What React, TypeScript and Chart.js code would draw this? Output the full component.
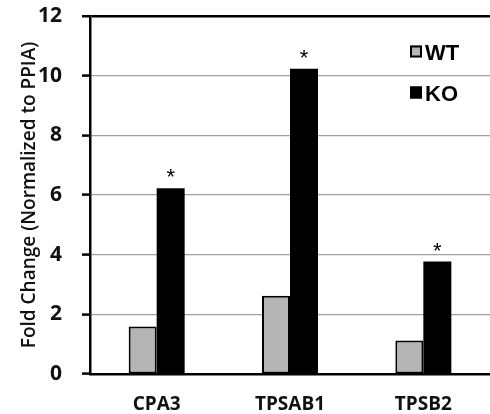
import React, { useEffect, useRef } from "react";
import { Chart, registerables } from "chart.js";

Chart.register(...registerables);

const categories = ["CPA3", "TPSAB1", "TPSB2"];
const wtValues = [1.59, 2.62, 1.12];
const koValues = [6.23, 10.23, 3.77];
const significant = [true, true, true];
const seriesLabels = ["WT", "KO"];
const yTicks = [0, 2, 4, 6, 8, 10, 12];

const annotationPlugin = {
  id: "annotations",
  afterDatasetsDraw(chart: any) {
    const ctx = chart.ctx;
    const meta = chart.getDatasetMeta(1);
    ctx.save();
    ctx.fillStyle = "#000";
    ctx.font = "normal 22px 'Liberation Sans', Arial, sans-serif";
    ctx.textAlign = "center";
    ctx.textBaseline = "alphabetic";
    meta.data.forEach((bar: any, i: number) => {
      if (significant[i]) ctx.fillText("*", bar.x, bar.y - 4);
    });
    // legend
    const ds = chart.data.datasets;
    const ys = [51.5, 92.5];
    ds.forEach((d: any, i: number) => {
      const y = ys[i];
      ctx.fillStyle = d.backgroundColor;
      ctx.fillRect(410, y - 6, 12, 12);
      ctx.strokeStyle = "#000";
      ctx.lineWidth = 2;
      ctx.strokeRect(411, y - 5, 10, 10);
      ctx.fillStyle = "#000";
      ctx.font = "bold 22px 'Liberation Sans', Arial, sans-serif";
      ctx.textAlign = "left";
      ctx.textBaseline = "middle";
      ctx.fillText(d.label, 425, y + 2.5);
    });
    ctx.restore();
  },
};

export default function App() {
  const ref = useRef<HTMLCanvasElement>(null);
  useEffect(() => {
    const chart = new Chart(ref.current!, {
      type: "bar",
      data: {
        labels: categories,
        datasets: [
          {
            label: seriesLabels[0],
            data: wtValues,
            backgroundColor: "#b4b4b4",
            borderColor: "#000",
            borderWidth: 2,
            borderSkipped: false,
          },
          {
            label: seriesLabels[1],
            data: koValues,
            backgroundColor: "#000",
            borderColor: "#000",
            borderWidth: 0,
          },
        ],
      },
      plugins: [annotationPlugin],
      options: {
        animation: false,
        responsive: false,
        layout: { padding: { top: 0, right: 0, bottom: 0, left: 0 } },
        plugins: { legend: { display: false }, tooltip: { enabled: false } },
        datasets: { bar: { barPercentage: 1, categoryPercentage: 0.42 } },
        scales: {
          x: {
            grid: { display: false, drawTicks: false },
            border: { display: true, color: "#000", width: 2.5 },
            ticks: {
              color: "#111",
              padding: 19,
              font: { family: "'Open Sans', sans-serif", weight: "bold", size: 19 },
            },
            afterFit: (s: any) => { s.height = 40; s.paddingLeft = 0; s.paddingRight = 0; },
          },
          y: {
            min: 0,
            max: 12,
            afterBuildTicks: (s: any) => { s.ticks = yTicks.map((v) => ({ value: v })); },
            grid: {
              color: (c: any) => (c.tick && c.tick.value === 12 ? "#000" : "#a0a0a0"),
              lineWidth: (c: any) => (c.tick && c.tick.value === 12 ? 2.5 : 1.2),
              tickColor: "#000",
              tickLength: 8,
              tickWidth: 2.5,
            },
            border: { display: true, color: "#000", width: 2.5 },
            ticks: {
              color: "#111",
              padding: 20,
              font: { family: "'Open Sans', sans-serif", weight: "bold", size: 21 },
            },
            title: {
              display: true,
              text: "Fold Change (Normalized to PPIA)",
              color: "#111",
              padding: { top: 18, bottom: 0 },
              font: { family: "'Open Sans', sans-serif", weight: "600", size: 19 },
            },
            afterFit: (s: any) => { s.width = 90; s.paddingTop = 16; s.paddingBottom = 0; },
          },
        },
      },
    } as any);
    return () => chart.destroy();
  }, []);
  return (
    <div style={{ position: "absolute", left: 0, top: 0, width: 490, height: 414, background: "#fff" }}>
      <canvas ref={ref} width={490} height={414} />
    </div>
  );
}
